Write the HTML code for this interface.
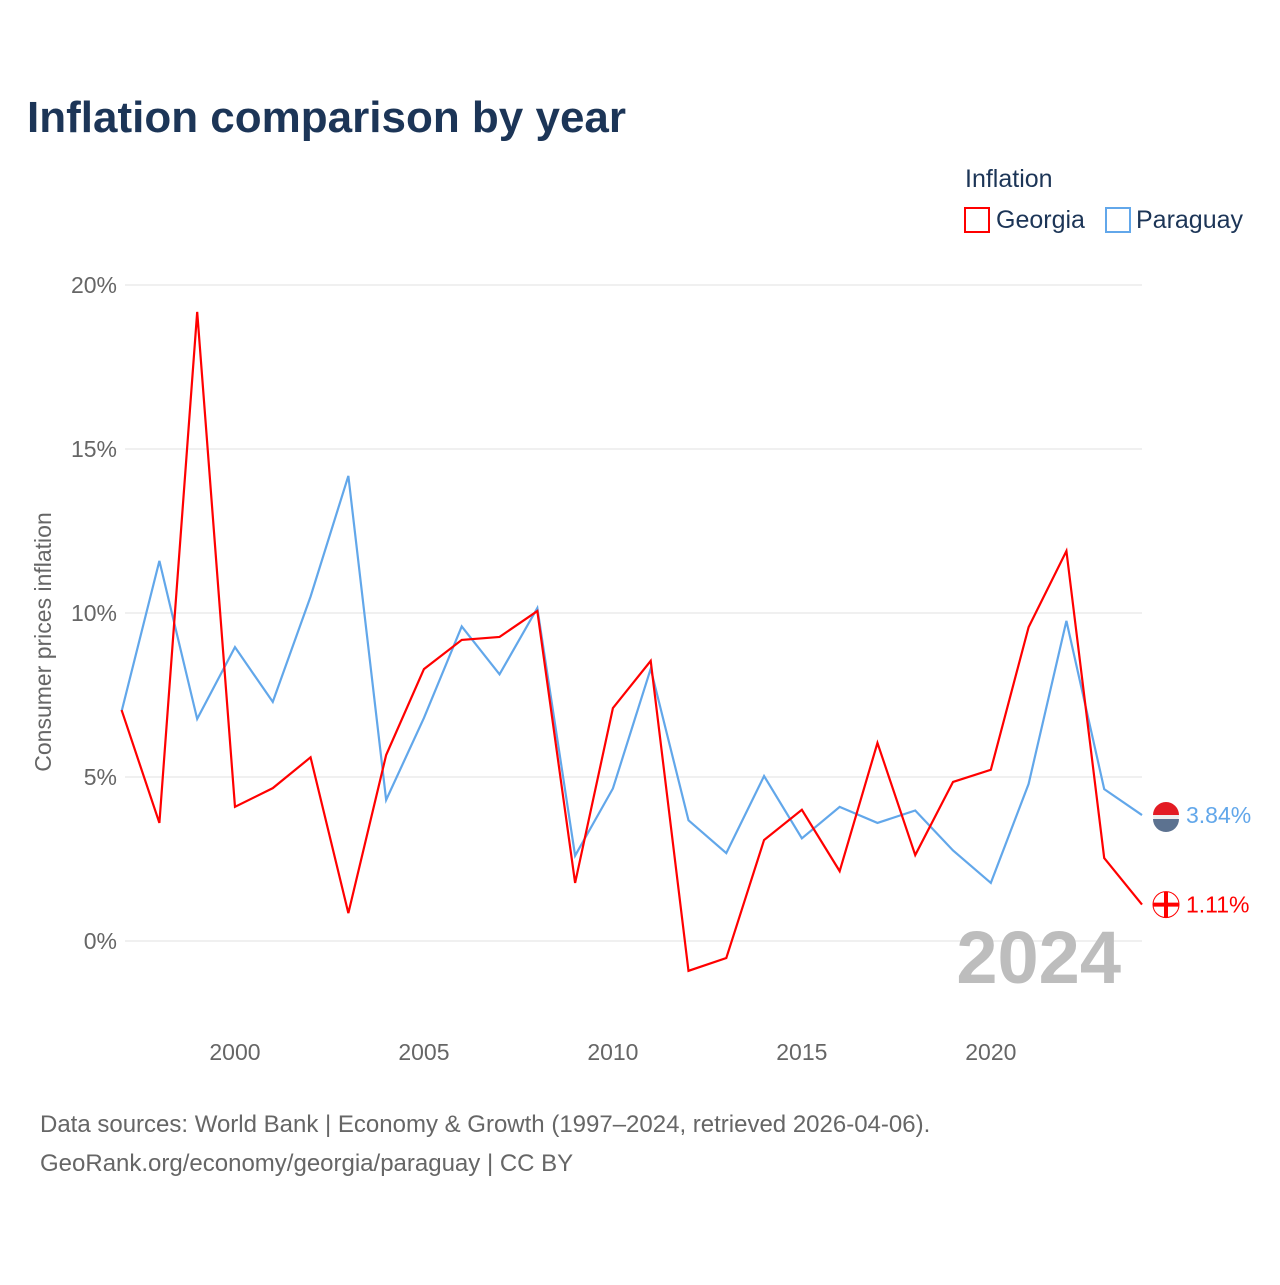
<!DOCTYPE html>
<html><head><meta charset="utf-8">
<style>
body{margin:0;background:#fff;font-family:"Liberation Sans",sans-serif;}
svg text{font-family:"Liberation Sans",sans-serif;}
</style></head>
<body>
<svg id="chart" width="1280" height="1280" viewBox="0 0 1280 1280" xmlns="http://www.w3.org/2000/svg">
<rect width="1280" height="1280" fill="#fff"/>
<text x="27" y="132" font-size="44" font-weight="bold" fill="#1c3557">Inflation comparison by year</text>
<text x="965" y="187" font-size="25" fill="#1c3557">Inflation</text>
<g>
<rect x="965" y="208" width="24" height="24" fill="none" stroke="#ff0000" stroke-width="2"/>
<text x="996" y="228" font-size="25" fill="#1c3557">Georgia</text></g>
<g>
<rect x="1106" y="208" width="24" height="24" fill="none" stroke="#62a7ea" stroke-width="2"/>
<text x="1136" y="228" font-size="25" fill="#1c3557">Paraguay</text></g>
<text transform="translate(51,642) rotate(-90)" text-anchor="middle" font-size="23" fill="#666">Consumer prices inflation</text>
<g id="grid"></g><g id="xt"></g>
<text x="1121" y="983" text-anchor="end" font-size="74" font-weight="bold" fill="#bdbdbd">2024</text>
<g id="series"></g>
<text x="40" y="1132" font-size="24" fill="#666">Data sources: World Bank | Economy &amp; Growth (1997–2024, retrieved 2026-04-06).</text>
<text x="40" y="1171" font-size="24" fill="#666">GeoRank.org/economy/georgia/paraguay | CC BY</text>
</svg>
<script>
const years=[1997,1998,1999,2000,2001,2002,2003,2004,2005,2006,2007,2008,2009,2010,2011,2012,2013,2014,2015,2016,2017,2018,2019,2020,2021,2022,2023,2024];
const georgia=[7.04,3.6,19.18,4.09,4.66,5.6,0.85,5.67,8.29,9.18,9.27,10.06,1.77,7.1,8.54,-0.91,-0.52,3.08,4.0,2.13,6.04,2.62,4.85,5.22,9.57,11.89,2.53,1.11];
const paraguay=[7.0,11.59,6.77,8.96,7.29,10.5,14.18,4.3,6.8,9.59,8.13,10.15,2.6,4.65,8.3,3.68,2.68,5.03,3.13,4.09,3.6,3.98,2.76,1.77,4.79,9.76,4.63,3.84];
const yTicks=[0,5,10,15,20];
const xTicks=[2000,2005,2010,2015,2020];
const NS="http://www.w3.org/2000/svg";
const x=v=>121.6+(v-1997)*(1142-121.6)/27;
const y=v=>941-v*32.8;
function mk(t,a,p){const e=document.createElementNS(NS,t);for(const k in a)e.setAttribute(k,a[k]);p.appendChild(e);return e;}
const grid=document.getElementById('grid');
yTicks.forEach(t=>{
const l=mk('line',{x1:125,x2:1142,y1:y(t),y2:y(t),stroke:'#ebebeb','stroke-width':1.5},grid);


const tx=mk('text',{x:117,y:y(t)+8,'text-anchor':'end','font-size':23,fill:'#666'},grid);
tx.textContent=t+'%';


});
const xt=document.getElementById('xt');
xTicks.forEach(t=>{
const tx=mk('text',{x:x(t),y:1060,'text-anchor':'middle','font-size':23,fill:'#666'},xt);
tx.textContent=t;


});
const sg=document.getElementById('series');
function draw(vals,col,name){
const p=mk('polyline',{points:vals.map((v,i)=>x(years[i])+','+y(v)).join(' '),fill:'none',stroke:col,'stroke-width':2.2,'stroke-linejoin':'miter'},sg);


const last=vals[vals.length-1];
const c=mk('circle',{cx:1166,cy:y(last),r:13,fill:name==='georgia'?'#fff':'#eee',stroke:name==='georgia'?'#ff0000':'none'},sg);


if(name==='paraguay'){mk('path',{d:`M1153 ${y(last)} a13 13 0 0 1 26 0z`,fill:'#e31b23'},sg);mk('path',{d:`M1153 ${y(last)+4} a13 13 0 0 0 26 0z`,fill:'#5c7290'},sg);}
else{mk('line',{x1:1153,x2:1179,y1:y(last),y2:y(last),stroke:'#f00','stroke-width':4},sg);mk('line',{x1:1166,x2:1166,y1:y(last)-13,y2:y(last)+13,stroke:'#f00','stroke-width':4},sg);}
const t=mk('text',{x:1186,y:y(last)+8,'font-size':23,fill:col},sg);
t.textContent=last.toFixed(2)+'%';


}
draw(paraguay,'#62a7ea','paraguay');
draw(georgia,'#ff0000','georgia');
</script>
</body></html>
